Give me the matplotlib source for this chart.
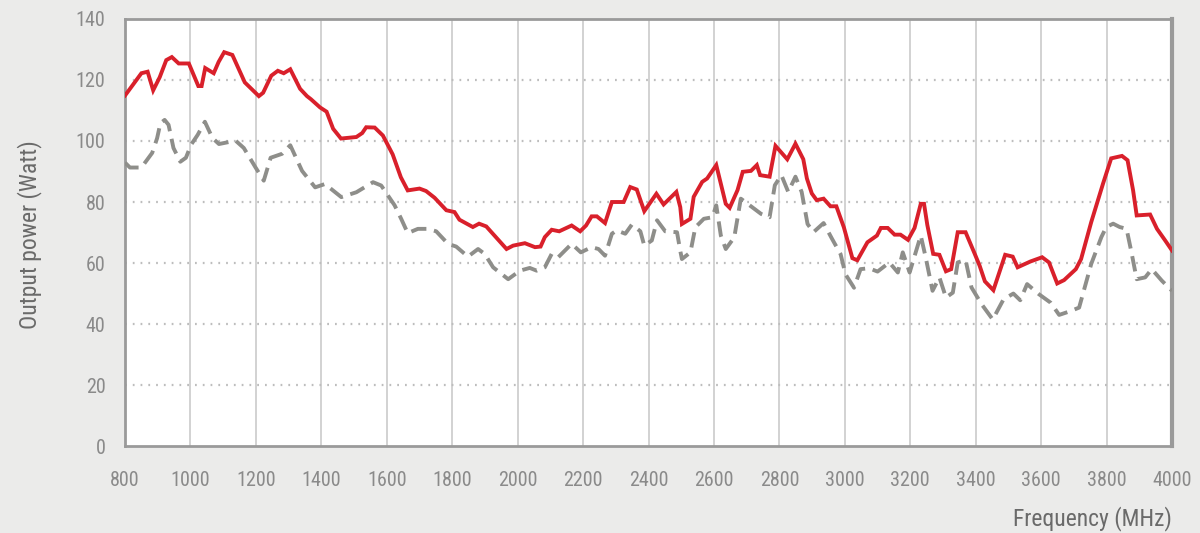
import matplotlib
matplotlib.use('Agg')
import matplotlib.pyplot as plt
from matplotlib import font_manager

# 字体: 优先用窄体
names = set(f.name for f in font_manager.fontManager.ttflist)
font = 'DejaVu Sans'
for n in ['Liberation Sans Narrow', 'Roboto Condensed', 'Open Sans', 'Roboto']:
    if n in names:
        font = n
        break
plt.rcParams['font.family'] = [font, 'DejaVu Sans']

# 数据
red_freq = [800, 850, 869, 886, 906, 926, 943, 964, 995, 1024, 1034, 1045, 1071, 1086, 1103, 1128,
            1166, 1209, 1222, 1247, 1267, 1285, 1305, 1335, 1356, 1368, 1396, 1416, 1436, 1460, 1507,
            1525, 1537, 1563, 1588, 1618, 1643, 1664, 1700, 1720, 1746, 1782, 1807, 1822, 1863, 1882,
            1904, 1966, 1986, 2022, 2053, 2070, 2083, 2104, 2127, 2165, 2191, 2209, 2226, 2242, 2267,
            2288, 2324, 2344, 2364, 2387, 2424, 2446, 2485, 2497, 2502, 2528, 2538, 2564, 2579, 2607,
            2636, 2648, 2672, 2688, 2713, 2731, 2741, 2770, 2788, 2824, 2849, 2873, 2884, 2899, 2914,
            2935, 2956, 2974, 2997, 3023, 3038, 3069, 3098, 3110, 3131, 3152, 3170, 3193, 3213, 3232,
            3242, 3252, 3270, 3289, 3309, 3325, 3345, 3369, 3397, 3412, 3428, 3454, 3490, 3513, 3528,
            3567, 3603, 3624, 3649, 3670, 3706, 3722, 3753, 3789, 3814, 3847, 3864, 3881, 3892, 3933,
            3954, 3979, 4000]
red_power = [114.9, 122.2, 122.7, 116.6, 120.9, 126.5, 127.5, 125.4, 125.4, 118, 118, 123.9, 122.2,
             125.9, 129.1, 128.2, 119.2, 114.7, 115.8, 121.4, 123, 122.2, 123.5, 117.1, 114.7, 113.7,
             111, 109.6, 104, 100.8, 101.3, 102.6, 104.5, 104.4, 101.8, 95.6, 88.1, 83.8, 84.4, 83.6,
             81.4, 77.3, 76.7, 74.2, 71.8, 72.9, 72, 64.6, 65.7, 66.5, 65.2, 65.4, 68.5, 70.9, 70.4,
             72.3, 70.4, 72.3, 75.3, 75.3, 73.1, 80, 80, 84.9, 84.1, 77, 82.7, 79.2, 83.3, 78.3, 72.8,
             74.5, 81.7, 86.6, 87.7, 92.1, 79.4, 78.1, 83.9, 89.9, 90.2, 92.1, 88.8, 88.3, 98.4, 94,
             99.1, 94, 87.7, 82.8, 80.6, 81.1, 78.6, 78.6, 71.7, 61.6, 60.9, 66.8, 69, 71.5, 71.5,
             69.3, 69.3, 67.6, 71.5, 79.4, 79.4, 72.5, 63, 62.7, 57.3, 58, 70.1, 70.1, 63, 59.1, 54,
             51.1, 62.7, 62.1, 58.6, 60.5, 61.9, 60.2, 53.3, 54.4, 58, 61.3, 73.4, 86, 94.3, 95.1,
             93.7, 83.8, 75.6, 75.9, 71.2, 67.4, 64.1]

gray_freq = [800, 815, 850, 883, 898, 908, 921, 933, 948, 969, 986, 1002, 1022, 1044, 1067, 1087,
             1138, 1163, 1199, 1224, 1245, 1280, 1305, 1341, 1381, 1411, 1461, 1507, 1558, 1583,
             1624, 1644, 1664, 1695, 1725, 1751, 1787, 1812, 1848, 1879, 1899, 1925, 1971, 2007,
             2037, 2058, 2083, 2104, 2124, 2165, 2193, 2226, 2247, 2267, 2288, 2303, 2329, 2349,
             2375, 2387, 2410, 2426, 2451, 2487, 2497, 2502, 2528, 2543, 2569, 2595, 2607, 2621,
             2636, 2662, 2682, 2713, 2744, 2770, 2786, 2806, 2827, 2849, 2868, 2886, 2904, 2935,
             2961, 2987, 3002, 3028, 3048, 3074, 3100, 3136, 3162, 3177, 3198, 3232, 3247, 3268,
             3289, 3309, 3330, 3345, 3369, 3387, 3418, 3452, 3485, 3515, 3536, 3557, 3593, 3629,
             3655, 3691, 3716, 3753, 3784, 3799, 3820, 3840, 3861, 3876, 3892, 3918, 3938, 3969, 4000]
gray_power = [92.9, 91.3, 91.3, 96.1, 100.9, 105.8, 106.9, 105.3, 97.7, 93.2, 94.5, 98.8, 102,
              106.3, 101, 99, 100.1, 97.7, 91.3, 87, 94.5, 95.8, 98.6, 90.2, 84.8, 85.9, 81.6, 83.2,
              86.5, 85.4, 78.9, 74.5, 69.8, 71.2, 71.2, 70.4, 66.3, 65.4, 62.1, 64.6, 63, 58.6, 54.7,
              57.5, 58.4, 57.5, 58.6, 63, 61.9, 66.3, 63.5, 65.2, 64.6, 62.4, 69.6, 70.7, 69.6, 72.6,
              70.4, 65.7, 67.4, 74, 70.4, 70.1, 64, 61.3, 63.5, 71.7, 74.5, 75, 78.9, 69, 64.6, 68.4,
              81.1, 78.6, 76.1, 75, 85.5, 88.8, 83.3, 88.3, 83.3, 72.8, 70.1, 73.1, 67.9, 62.9, 56.3,
              51.9, 58, 58.3, 57.2, 60.2, 56.9, 63.5, 56.9, 69, 61.9, 50.9, 55.3, 48.7, 50.3, 60.2,
              61, 52, 46.5, 41.5, 48.1, 50, 47.8, 53.1, 49.8, 47, 43, 44.3, 45.4, 59.7, 68.5, 71.8,
              72.9, 71.8, 71.2, 63.5, 54.7, 55.3, 58, 54.2, 50.9]

x_ticks = [800, 1000, 1200, 1400, 1600, 1800, 2000, 2200, 2400, 2600, 2800, 3000, 3200, 3400, 3600, 3800, 4000]
y_ticks = [0, 20, 40, 60, 80, 100, 120, 140]

fig = plt.figure(figsize=(12, 5.33), dpi=100, facecolor='#ebebea')
ax = fig.add_axes([0.1042, 0.163, 0.8725, 0.8015])
ax.set_facecolor('white')

# 网格
for x in x_ticks[1:-1]:
    ax.axvline(x, color='#cfcfcf', lw=1.3, zorder=1)
for y in y_ticks[1:-1]:
    ax.axhline(y, color='#bdbdbd', lw=1.6, linestyle=(0, (0.8, 2.7)), zorder=1)

# 曲线
ax.plot(gray_freq, gray_power, color='#8e8e8a', lw=2.8, linestyle=(0, (4, 2)), zorder=3)
ax.plot(red_freq, red_power, color='#d9202b', lw=2.8, zorder=4, solid_joinstyle='miter')

ax.set_xlim(800, 4000)
ax.set_ylim(0, 140)
ax.set_xticks(x_ticks)
ax.set_yticks(y_ticks)
ax.tick_params(length=0, labelsize=14.5, labelcolor='#8a8a8a')
ax.tick_params(axis='x', pad=18)
ax.tick_params(axis='y', pad=14)

for s in ['left', 'bottom', 'top']:
    ax.spines[s].set_color('#9a9a9a')
    ax.spines[s].set_linewidth(2)
ax.spines['right'].set_color('#9a9a9a')
ax.spines['right'].set_linewidth(3)

# 坐标轴标题
fig.text(0.025, 0.56, 'Output power (Watt)', fontsize=17, color='#6a6a6a',
         rotation=90, ha='center', va='center')
fig.text(0.9767, 0.014, 'Frequency (MHz)', fontsize=17, color='#6a6a6a', ha='right', va='baseline')

plt.savefig('out.png', dpi=100, facecolor=fig.get_facecolor())
